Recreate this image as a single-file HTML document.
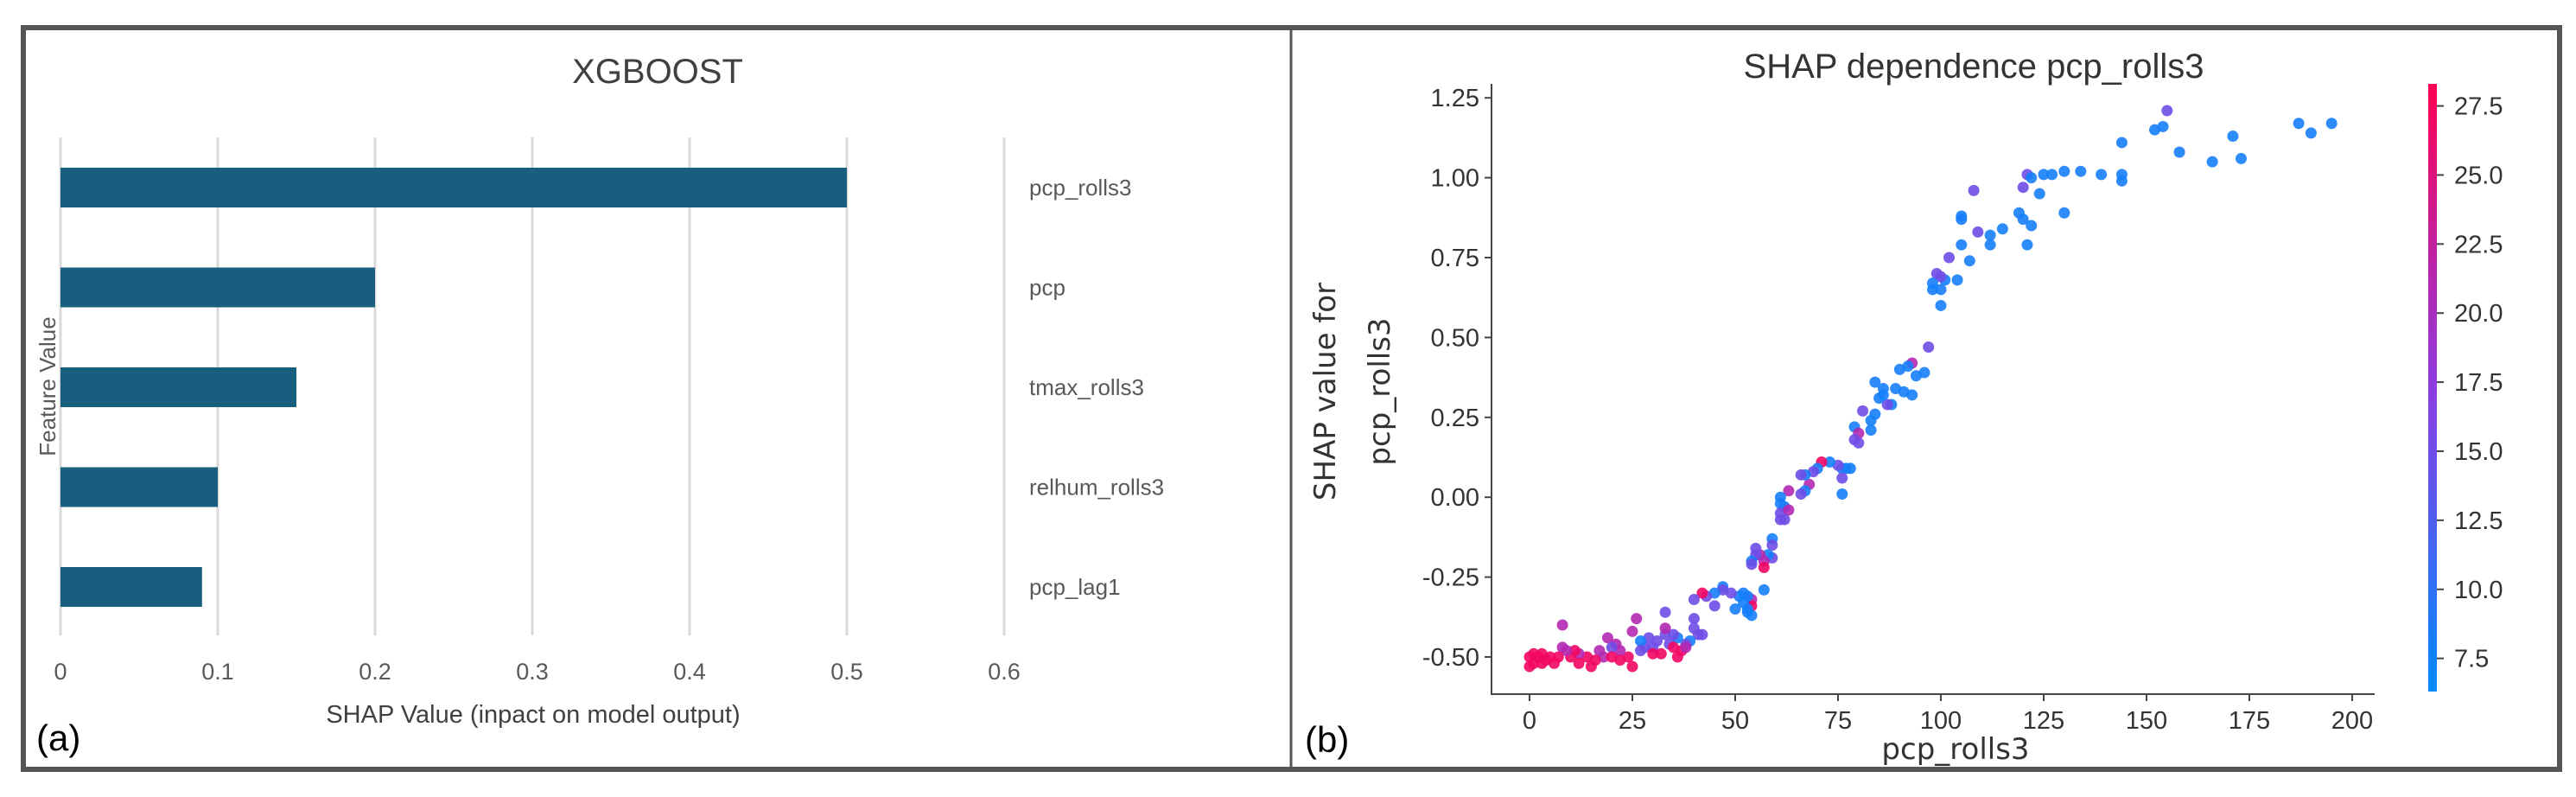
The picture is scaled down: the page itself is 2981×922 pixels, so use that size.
<!DOCTYPE html>
<html><head><meta charset="utf-8">
<style>
html,body{margin:0;padding:0;background:#fff;}
svg{display:block;}
.n{font-family:"Liberation Sans Narrow","Liberation Sans",sans-serif;}
.s{font-family:"DejaVu Sans","Liberation Sans",sans-serif;}
</style></head>
<body>
<svg id="fig" width="2981" height="922" viewBox="0 0 2981 922" xmlns="http://www.w3.org/2000/svg">
<rect x="0" y="0" width="2981" height="922" fill="#fff"/>
<rect x="27" y="32" width="2935" height="858" fill="none" stroke="#555" stroke-width="6"/>
<line x1="1494" y1="32" x2="1494" y2="890" stroke="#555" stroke-width="3"/>
<g id="left"></g>
<g id="right"></g>
<defs>
<linearGradient id="cbg" x1="0" y1="1" x2="0" y2="0">
<stop offset="0" stop-color="rgb(0,138,255)"/>
<stop offset="0.5" stop-color="rgb(140,60,225)"/>
<stop offset="1" stop-color="rgb(255,0,82)"/>
</linearGradient>
</defs>
</svg>
<script>
// ---- Bar chart data ----
const barFeatures = ["pcp_rolls3","pcp","tmax_rolls3","relhum_rolls3","pcp_lag1"];
const barValues = [0.5, 0.2, 0.15, 0.1, 0.09];
const barTicks = [0, 0.1, 0.2, 0.3, 0.4, 0.5, 0.6];

// ---- Dependence plot data ----
const pcpX = [155,152,154,158,144,166,171,173,187,190,
195,134,139,144,144,130,127,125,121,122,
120,124,130,121,122,119,120,115,112,112,
109,108,105,105,105,107,102,104,101,99,
100,98,98,100,100,97,96,94,93,92,
90,89,91,93,88,87,86,86,84,85,
84,83,83,81,79,80,79,80,76,77,
78,75,76,76,73,71,70,69,68,67,
66,67,66,63,61,61,62,61,63,62,
61,59,59,59,58,57,57,56,55,55,
54,54,57,54,54,53,53,54,53,52,
52,51,50,49,47,47,45,45,43,42,
40,40,40,41,39,38,36,35,34,33,
33,33,31,30,29,28,27,27,26,25,
24,25,22,21,20,19,18,17,16,15,
14,12,12,11,10,9,8,8,7,6,
5,4,3,2,1,0,0,1,3,36,
37,30,32,35,38,22,20,42];
const shapY = [1.21,1.15,1.16,1.08,1.11,1.05,1.13,1.06,1.17,1.14,
1.17,1.02,1.01,1.01,0.99,1.02,1.01,1.01,1.01,1.00,
0.97,0.95,0.89,0.79,0.85,0.89,0.87,0.84,0.82,0.79,
0.83,0.96,0.88,0.87,0.79,0.74,0.75,0.68,0.68,0.70,
0.69,0.67,0.65,0.65,0.60,0.47,0.39,0.38,0.42,0.41,
0.40,0.34,0.33,0.32,0.29,0.29,0.32,0.34,0.36,0.31,
0.26,0.24,0.21,0.27,0.22,0.20,0.18,0.17,0.09,0.09,
0.09,0.10,0.06,0.01,0.11,0.11,0.09,0.08,0.04,0.07,
0.07,0.02,0.01,0.02,0.00,-0.02,-0.03,-0.05,-0.04,-0.07,
-0.07,-0.13,-0.15,-0.19,-0.18,-0.20,-0.22,-0.18,-0.16,-0.18,
-0.20,-0.21,-0.29,-0.32,-0.34,-0.35,-0.36,-0.37,-0.31,-0.30,
-0.33,-0.31,-0.35,-0.30,-0.28,-0.29,-0.30,-0.34,-0.31,-0.30,
-0.32,-0.38,-0.41,-0.43,-0.45,-0.46,-0.44,-0.43,-0.46,-0.43,
-0.36,-0.41,-0.45,-0.47,-0.44,-0.47,-0.45,-0.48,-0.38,-0.42,
-0.50,-0.53,-0.48,-0.46,-0.47,-0.44,-0.50,-0.48,-0.51,-0.53,
-0.50,-0.49,-0.52,-0.48,-0.50,-0.48,-0.47,-0.40,-0.50,-0.52,
-0.50,-0.51,-0.52,-0.50,-0.52,-0.50,-0.53,-0.49,-0.49,-0.50,
-0.48,-0.49,-0.49,-0.47,-0.47,-0.51,-0.50,-0.43];
const colorZ = [15,8,8,8,8,8,8,8,8,8,
8,8,8,8,8,8,8,8,15,8,
15,8,8,8,8,8,8,8,8,8,
15,15,8,8,8,8,15,8,8,15,
15,8,8,8,8,15,8,8,21,8,
8,8,8,8,8,15,8,8,8,8,
8,8,8,15,8,21,15,15,8,8,
8,15,15,8,8,27,8,15,21,8,
15,8,15,21,8,8,8,15,21,15,
15,8,15,15,8,21,27,21,15,15,
8,15,8,21,27,8,8,8,8,8,
8,8,8,15,8,15,8,15,15,27,
15,15,15,15,8,15,8,15,15,15,
15,21,15,15,15,15,8,15,21,21,
27,27,21,21,15,21,21,21,27,27,
27,21,27,27,27,21,21,21,27,27,
27,27,27,27,27,27,27,27,27,27,
27,27,27,27,21,27,27,15];
const xTicks = [0,25,50,75,100,125,150,175,200];
const yTicks = [-0.5,-0.25,0,0.25,0.5,0.75,1.0,1.25];
const cbTicks = [7.5,10,12.5,15,17.5,20,22.5,25,27.5];

const NS = "http://www.w3.org/2000/svg";
function mk(parent, tag, attrs, text){
  const e = document.createElementNS(NS, tag);
  for (const k in attrs) e.setAttribute(k, attrs[k]);
  if (text !== undefined) e.textContent = text;
  parent.appendChild(e);
  return e;
}

// ===== Left bar chart =====
const L = document.getElementById('left');
const bx = v => 70 + v * 1820;
const barY0 = 194, barStep = 115.5, barH = 46;
let t = mk(L,'text',{x:761,y:96,'text-anchor':'middle','font-size':40,fill:'#404040','class':'n'},'XGBOOST');


barTicks.forEach(v=>{
  const g = mk(L,'line',{x1:bx(v),x2:bx(v),y1:159,y2:735,stroke:'#d9d9d9','stroke-width':3});
  
  
  const tl = mk(L,'text',{x:bx(v),y:786,'text-anchor':'middle','font-size':27,fill:'#595959','class':'n'}, String(v));
  
  
});
barFeatures.forEach((f,i)=>{
  const y = barY0 + i*barStep;
  const r = mk(L,'rect',{x:bx(0),y:y,width:bx(barValues[i])-bx(0),height:barH,fill:'#175e7f'});
  
  
  const lb = mk(L,'text',{x:1191,y:y+barH/2+9,'font-size':26,fill:'#595959','class':'n'}, f);
  
  
});
t = mk(L,'text',{x:617,y:836,'text-anchor':'middle','font-size':29,fill:'#404040','class':'n'},'SHAP Value (inpact on model output)');


t = mk(L,'text',{x:0,y:0,'text-anchor':'middle','font-size':26,fill:'#595959','class':'n',transform:'translate(64,447) rotate(-90)'},'Feature Value');


t = mk(L,'text',{x:42,y:868,'font-size':42,fill:'#000','class':'n'},'(a)');



// ===== Right dependence plot =====
const R = document.getElementById('right');
const sx = v => 1770 + v * 4.76;
const sy = v => 760 - (v + 0.5) * 369.6;
t = mk(R,'text',{x:2284,y:90,'text-anchor':'middle','font-size':40,fill:'#333','class':'n'},'SHAP dependence pcp_rolls3');


let ax = mk(R,'line',{x1:1726,x2:1726,y1:97,y2:803,stroke:'#444','stroke-width':2});


ax = mk(R,'line',{x1:1725,x2:2748,y1:803,y2:803,stroke:'#444','stroke-width':2});


xTicks.forEach(v=>{
  const tk = mk(R,'line',{x1:sx(v),x2:sx(v),y1:803,y2:811,stroke:'#444','stroke-width':2});
  
  
  const tl = mk(R,'text',{x:sx(v),y:843,'text-anchor':'middle','font-size':29,fill:'#333','class':'n'},String(v));
  
  
});
yTicks.forEach(v=>{
  const tk = mk(R,'line',{x1:1718,x2:1726,y1:sy(v),y2:sy(v),stroke:'#444','stroke-width':2});
  
  
  const tl = mk(R,'text',{x:1712,y:sy(v)+10,'text-anchor':'end','font-size':29,fill:'#333','class':'n'},v.toFixed(2));
  
  
});
const cMin = 6.3, cMax = 28.3;
function cmap(z){
  let f = Math.max(0, Math.min(1, (z - cMin)/(cMax - cMin)));
  const a=[0,138,255], m=[140,60,225], b=[255,0,82];
  let p,q,u;
  if (f<0.5){p=a;q=m;u=f/0.5;} else {p=m;q=b;u=(f-0.5)/0.5;}
  return 'rgb('+p.map((c,i)=>Math.round(c+(q[i]-c)*u)).join(',')+')';
}
pcpX.forEach((x,i)=>{
  const c = mk(R,'circle',{cx:sx(x),cy:sy(shapY[i]),r:6.5,fill:cmap(colorZ[i]),'fill-opacity':0.9});
  
  
});
t = mk(R,'text',{x:2263,y:878,'text-anchor':'middle','font-size':34,fill:'#333','class':'s'},'pcp_rolls3');


t = mk(R,'text',{x:0,y:0,'text-anchor':'middle','font-size':34,fill:'#333','class':'s',transform:'translate(1545,453) rotate(-90)'},'SHAP value for');


t = mk(R,'text',{x:0,y:0,'text-anchor':'middle','font-size':34,fill:'#333','class':'s',transform:'translate(1608,453) rotate(-90)'},'pcp_rolls3');


const cb = mk(R,'rect',{x:2810,y:97,width:10,height:703,fill:'url(#cbg)'});


const cy = z => 800 - (z - cMin)/(cMax - cMin)*703;
cbTicks.forEach(z=>{
  const tk = mk(R,'line',{x1:2820,x2:2828,y1:cy(z),y2:cy(z),stroke:'#444','stroke-width':2});
  
  
  const tl = mk(R,'text',{x:2840,y:cy(z)+10,'font-size':29,fill:'#333','class':'n'},z.toFixed(1));
  
  
});
t = mk(R,'text',{x:1510,y:870,'font-size':42,fill:'#000','class':'n'},'(b)');


</script>
</body></html>
